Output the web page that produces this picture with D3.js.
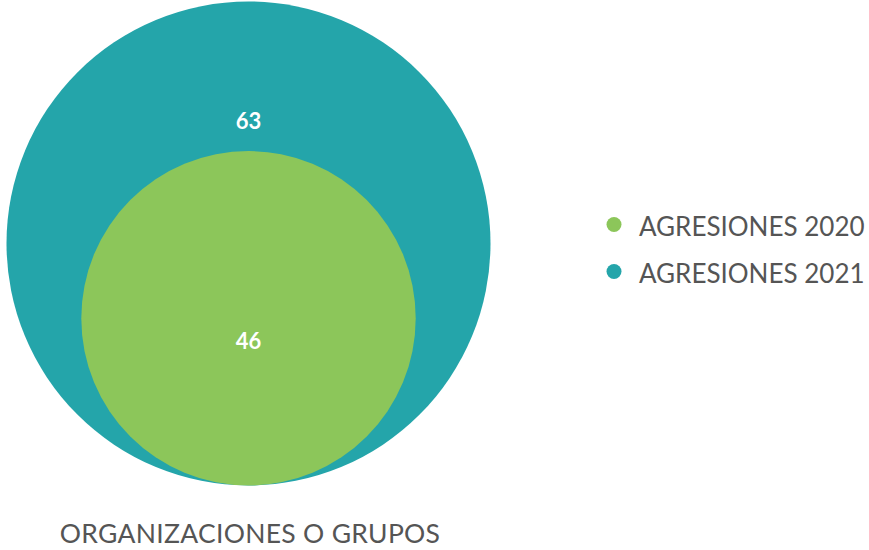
<!DOCTYPE html>
<html><head><meta charset="utf-8">
<script src="https://cdn.jsdelivr.net/npm/d3@7"></script>
<style>body{margin:0;background:#fff;}svg{display:block;}</style>
</head><body>
<script>
const series = ["AGRESIONES 2020", "AGRESIONES 2021"];
const values = [46, 63];
const colors = ["#8cc65a", "#24a5aa"];
const category = "ORGANIZACIONES O GRUPOS";

const W = 869, H = 550;
const svg = d3.select("body").append("svg").attr("width", W).attr("height", H);
const font = "Lato, 'Open Sans', sans-serif";

const r = d3.scaleLinear().domain([8, 63]).range([0, 242]);
const cx = 248.5, baseY = 485.5;

const order = d3.range(values.length).sort((a, b) => values[b] - values[a]);
svg.selectAll("circle.bubble").data(order).join("circle")
  .attr("class", "bubble")
  .attr("cx", cx)
  .attr("cy", i => baseY - r(values[i]))
  .attr("r", i => r(values[i]))
  .attr("fill", i => colors[i]);

// value labels
svg.selectAll("text.val").data(order).join("text")
  .attr("class", "val")
  .attr("x", cx)
  .attr("y", (i, k) => k === 0 ? baseY - 2 * r(values[i]) + 127.5 : baseY - r(values[i]) + 30.5)
  .attr("text-anchor", "middle")
  .attr("font-family", font).attr("font-weight", 700).attr("font-size", 22)
  .attr("fill", "#fff")
  .text(i => values[i]);

// category label
svg.append("text").attr("x", cx + 1.5).attr("y", 543)
  .attr("text-anchor", "middle").attr("font-family", font).attr("font-size", 26.5)
  .attr("letter-spacing", 0.3)
  .attr("fill", "#555").text(category);

// legend
const lg = svg.append("g").attr("transform", "translate(614,224.5)");
const items = lg.selectAll("g").data(series).join("g")
  .attr("transform", (d, i) => `translate(0,${i * 47})`);
items.append("circle").attr("r", 7.5).attr("fill", (d, i) => colors[i]);
items.append("text").attr("x", 25).attr("y", 11.5)
  .attr("font-family", font).attr("font-size", 26).attr("fill", "#555").text(d => d);
</script>
</body></html>
